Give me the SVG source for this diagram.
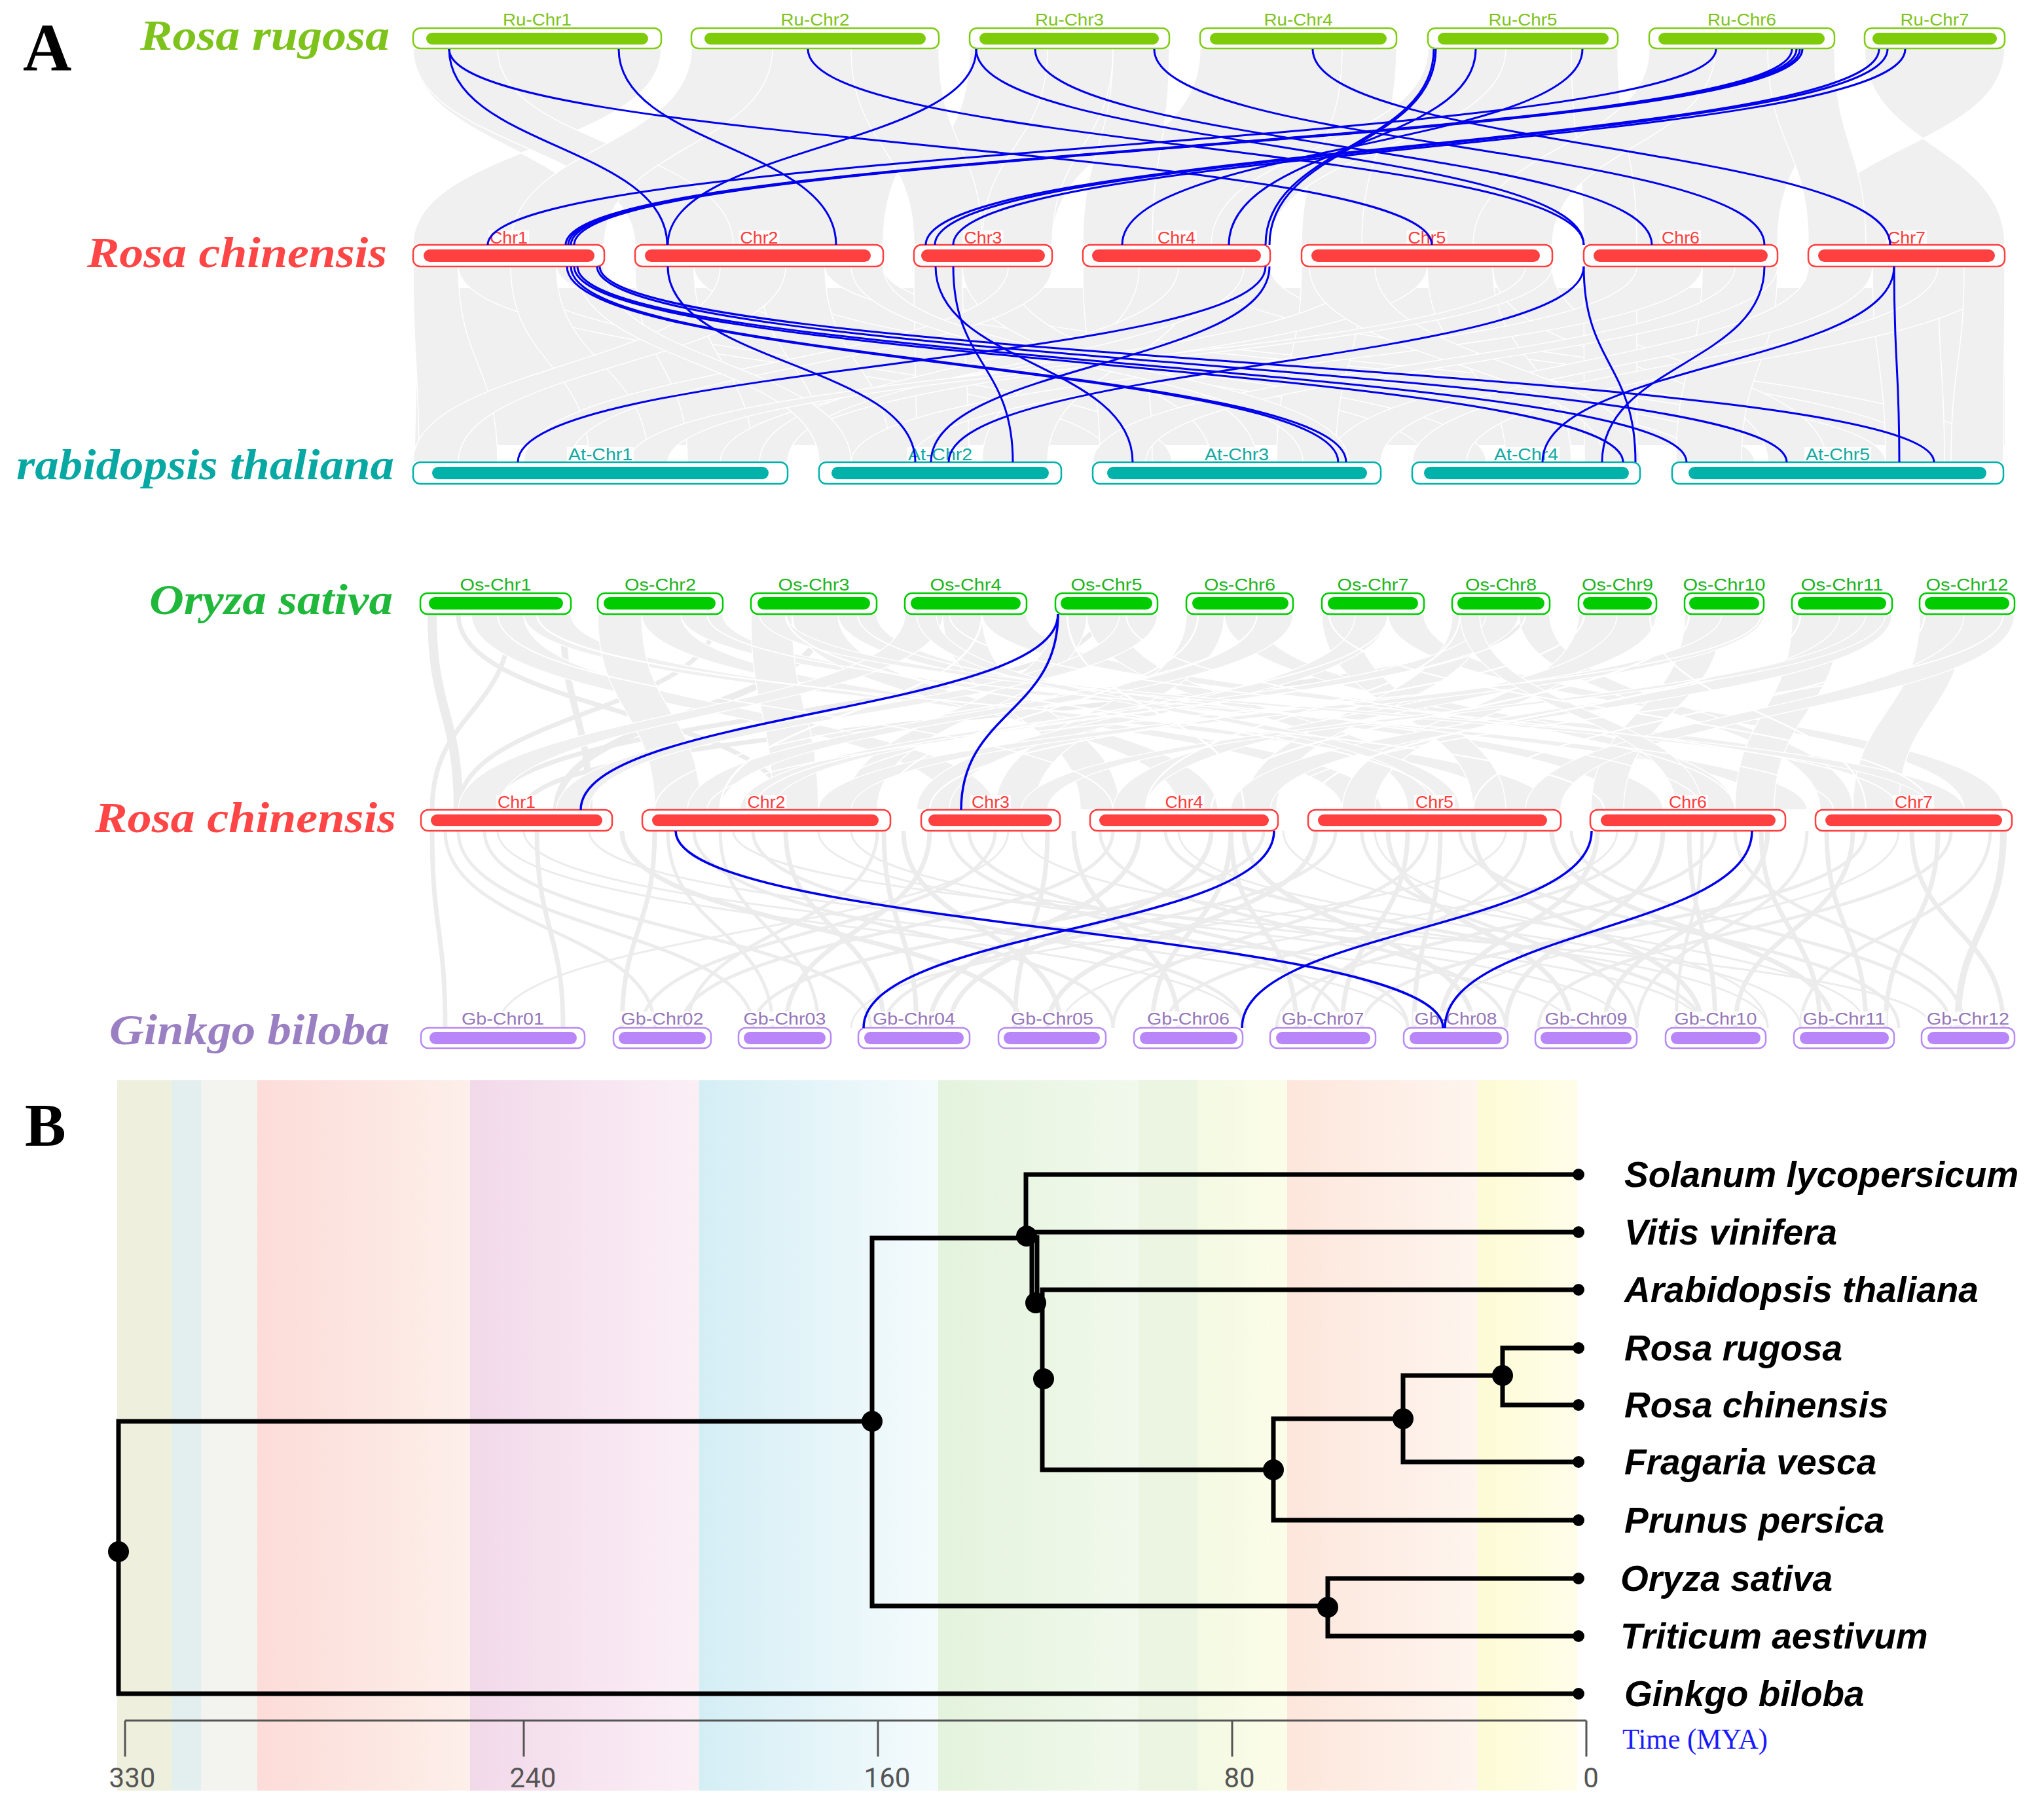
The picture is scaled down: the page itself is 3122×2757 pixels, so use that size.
<svg xmlns="http://www.w3.org/2000/svg" width="3122" height="2757" viewBox="0 0 3122 2757">
<style>
.o{fill:#fff;stroke-width:2.5}
.cl{font-family:"Liberation Sans",Arial,sans-serif;font-size:26px;text-anchor:middle}
.lb{fill:#fff;fill-opacity:.85}
.ru .o{stroke:#80cc14}.ru .i{fill:#7ecb0a}.ru text{fill:#7ec31c}
.rc .o{stroke:#ff4040}.rc .i{fill:#ff4040}.rc text{fill:#ff3b3b}
.at .o{stroke:#00b2aa}.at .i{fill:#00b2aa}.at text{fill:#10a9a1}
.os .o{stroke:#00cc00}.os .i{fill:#00cc00}.os text{fill:#1db51d}
.gb .o{stroke:#b88af5}.gb .i{fill:#b986f9}.gb text{fill:#9577b9}
.sp{font-family:"Liberation Serif","Times New Roman",serif;font-weight:bold;font-style:italic;font-size:66px}
.pl{font-family:"Liberation Serif","Times New Roman",serif;font-weight:bold;fill:#000}
.bl{fill:none;stroke:#0000ee;stroke-width:3}
.gr{fill:#f0f0f0;stroke:#fff;stroke-width:1.5}
.base{fill:#f0f0f0;stroke:none}
.gl{fill:none;stroke:#ececec}
.wl{fill:none;stroke:#fff}
#g3w .a{stroke-width:2}#g3w .b{stroke-width:2.5}#g3w .c{stroke-width:3}#g3w .d{stroke-width:3.5}
#g3g .b{stroke-width:7}#g3g .c{stroke-width:10}#g3g .d{stroke-width:14}
#g4 .a{stroke-width:3}#g4 .b{stroke-width:5}#g4 .c{stroke-width:7}#g4 .d{stroke-width:10}
.tr{fill:none;stroke:#000;stroke-width:7;stroke-linecap:square}
.lf{font-family:"Liberation Sans",Arial,sans-serif;font-weight:bold;font-style:italic;font-size:55px;fill:#000}
.ax{font-family:Roboto,"Liberation Sans",sans-serif;font-size:42px;fill:#555;text-anchor:middle}
</style>
<defs>
<linearGradient id="b1"><stop offset="0" stop-color="#fcdcd8"/><stop offset="1" stop-color="#fdefea"/></linearGradient>
<linearGradient id="b2"><stop offset="0" stop-color="#f2d9ea"/><stop offset="1" stop-color="#fbeff6"/></linearGradient>
<linearGradient id="b3"><stop offset="0" stop-color="#d4eef5"/><stop offset="1" stop-color="#f5fbfc"/></linearGradient>
<linearGradient id="b4"><stop offset="0" stop-color="#e4f3dd"/><stop offset="1" stop-color="#f1f9ec"/></linearGradient>
<linearGradient id="b5"><stop offset="0" stop-color="#f3f9e2"/><stop offset="1" stop-color="#fcfde9"/></linearGradient>
<linearGradient id="b6"><stop offset="0" stop-color="#fde6dc"/><stop offset="1" stop-color="#fef5ee"/></linearGradient>
<linearGradient id="b7"><stop offset="0" stop-color="#fdfbd4"/><stop offset="1" stop-color="#fffde9"/></linearGradient>
</defs>
<rect width="3122" height="2757" fill="#fff"/>

<!-- grey synteny background -->
<g id="g1" class="gr">
<path d="M1056 74C1056 224 970 224 970 374L1349 374C1349 224 1434 224 1434 74Z"/>
<path d="M1481 74C1481 224 1396 224 1396 374L1607 374C1607 224 1786 224 1786 74Z"/>
<path d="M1833 74C1833 224 1654 224 1654 374L1940 374C1940 224 2133 224 2133 74Z"/>
<path d="M2181 74C2181 224 1988 224 1988 374L2371 374C2371 224 2471 224 2471 74Z"/>
<path d="M2519 74C2519 224 2419 224 2419 374L2715 374C2715 224 2802 224 2802 74Z"/>
<path d="M631 74C631 224 923 224 923 374L631 374C631 224 1010 224 1010 74Z"/>
<path d="M2848 74C2848 224 3062 224 3062 374L2762 374C2762 224 3062 224 3062 74Z"/>
<path d="M1300 74C1300 224 1396 224 1396 374L1500 374C1500 224 1434 224 1434 74Z"/>
<path d="M1700 74C1700 224 1654 224 1654 374L1760 374C1760 224 1786 224 1786 74Z"/>
<path d="M2050 74C2050 224 1988 224 1988 374L2080 374C2080 224 2133 224 2133 74Z"/>
<path d="M2400 74C2400 224 2419 224 2419 374L2500 374C2500 224 2471 224 2471 74Z"/>
<path d="M2700 74C2700 224 2762 224 2762 374L2850 374C2850 224 2802 224 2802 74Z"/>
<path d="M631 74C631 224 970 224 970 374L1120 374C1120 224 760 224 760 74Z"/>
<path d="M1056 74C1056 224 780 224 780 374L923 374C923 224 1180 224 1180 74Z"/>
<path d="M2519 74C2519 224 2250 224 2250 374L2371 374C2371 224 2620 224 2620 74Z"/>
<path d="M2181 74C2181 224 1850 224 1850 374L1940 374C1940 224 2300 224 2300 74Z"/>
<path d="M1600 74C1600 224 1500 224 1500 374L1607 374C1607 224 1700 224 1700 74Z"/>
</g>
<g id="g2" class="gr">
<path class="base" d="M640 440H3062V680H634Z"/>
<path d="M631 407C631 556 640 556 640 706L760 706C760 556 700 556 700 407Z"/>
<path d="M700 407C700 556 1700 556 1700 706L1790 706C1790 556 780 556 780 407Z"/>
<path d="M780 407C780 556 900 556 900 706L990 706C990 556 850 556 850 407Z"/>
<path d="M850 407C850 556 2600 556 2600 706L2680 706C2680 556 923 556 923 407Z"/>
<path d="M970 407C970 556 1050 556 1050 706L1150 706C1150 556 1060 556 1060 407Z"/>
<path d="M1060 407C1060 556 2180 556 2180 706L2270 706C2270 556 1160 556 1160 407Z"/>
<path d="M1160 407C1160 556 1260 556 1260 706L1360 706C1360 556 1260 556 1260 407Z"/>
<path d="M1260 407C1260 556 2800 556 2800 706L2880 706C2880 556 1349 556 1349 407Z"/>
<path d="M1396 407C1396 556 1400 556 1400 706L1480 706C1480 556 1470 556 1470 407Z"/>
<path d="M1470 407C1470 556 1850 556 1850 706L1920 706C1920 556 1540 556 1540 407Z"/>
<path d="M1540 407C1540 556 800 556 800 706L870 706C870 556 1607 556 1607 407Z"/>
<path d="M1654 407C1654 556 1680 556 1680 706L1760 706C1760 556 1740 556 1740 407Z"/>
<path d="M1740 407C1740 556 1500 556 1500 706L1600 706C1600 556 1830 556 1830 407Z"/>
<path d="M1830 407C1830 556 2950 556 2950 706L3050 706C3050 556 1940 556 1940 407Z"/>
<path d="M1988 407C1988 556 1950 556 1950 706L2040 706C2040 556 2080 556 2080 407Z"/>
<path d="M2080 407C2080 556 1100 556 1100 706L1190 706C1190 556 2180 556 2180 407Z"/>
<path d="M2180 407C2180 556 2300 556 2300 706L2400 706C2400 556 2280 556 2280 407Z"/>
<path d="M2280 407C2280 556 2700 556 2700 706L2790 706C2790 556 2371 556 2371 407Z"/>
<path d="M2419 407C2419 556 2420 556 2420 706L2500 706C2500 556 2500 556 2500 407Z"/>
<path d="M2500 407C2500 556 1300 556 1300 706L1390 706C1390 556 2600 556 2600 407Z"/>
<path d="M2600 407C2600 556 2560 556 2560 706L2660 706C2660 556 2715 556 2715 407Z"/>
<path d="M2762 407C2762 556 2030 556 2030 706L2109 706C2109 556 2860 556 2860 407Z"/>
<path d="M2860 407C2860 556 2880 556 2880 706L2970 706C2970 556 2960 556 2960 407Z"/>
<path d="M2960 407C2960 556 2157 556 2157 706L2240 706C2240 556 3062 556 3062 407Z"/>
<path d="M1100 407C1100 556 631 556 631 706L700 706C700 556 1200 556 1200 407Z"/>
<path d="M2000 407C2000 556 2450 556 2450 706L2505 706C2505 556 2100 556 2100 407Z"/>
<path d="M1800 407C1800 556 1160 556 1160 706L1203 706C1203 556 1900 556 1900 407Z"/>
<path d="M2650 407C2650 556 1669 556 1669 706L1750 706C1750 556 2715 556 2715 407Z"/>
<path d="M3000 407C3000 556 2980 556 2980 706L3060 706C3060 556 3062 556 3062 407Z"/>
<path d="M880 407C880 556 1251 556 1251 706L1300 706C1300 556 923 556 923 407Z"/>
<path d="M1300 407C1300 556 1990 556 1990 706L2060 706C2060 556 1349 556 1349 407Z"/>
<path d="M2330 407C2330 556 960 556 960 706L1020 706C1020 556 2371 556 2371 407Z"/>
</g>
<g id="g3g" class="gl">
<path class="d" d="M660 938C660 1088 700 1088 700 1237"/>
<path class="c" d="M860 938C860 1088 900 1088 900 1237"/>
<path class="b" d="M700 938C700 1088 1200 1088 1200 1237"/>
<path class="b" d="M1095 938C1095 1088 700 1088 700 1237"/>
<path class="c" d="M1260 938C1260 1088 850 1088 850 1237"/>
<path class="b" d="M1680 938C1680 1088 750 1088 750 1237"/>
<path class="b" d="M2330 938C2330 1088 800 1088 800 1237"/>
<path class="c" d="M930 938C930 1088 1050 1088 1050 1237"/>
<path class="b" d="M780 938C780 1088 660 1088 660 1237"/>
</g>
<g id="g3" class="gr">
<path d="M720 938C720 1088 1450 1088 1450 1237L1520 1237C1520 1088 800 1088 800 938Z"/>
<path d="M800 938C800 1088 2300 1088 2300 1237L2370 1237C2370 1088 872 1088 872 938Z"/>
<path d="M913 938C913 1088 1000 1088 1000 1237L1070 1237C1070 1088 980 1088 980 938Z"/>
<path d="M980 938C980 1088 2050 1088 2050 1237L2110 1237C2110 1088 1040 1088 1040 938Z"/>
<path d="M1040 938C1040 1088 2700 1088 2700 1237L2760 1237C2760 1088 1104 1088 1104 938Z"/>
<path d="M1147 938C1147 1088 1180 1088 1180 1237L1250 1237C1250 1088 1210 1088 1210 938Z"/>
<path d="M1210 938C1210 1088 1800 1088 1800 1237L1860 1237C1860 1088 1280 1088 1280 938Z"/>
<path d="M1280 938C1280 1088 2480 1088 2480 1237L2540 1237C2540 1088 1339 1088 1339 938Z"/>
<path d="M1382 938C1382 1088 700 1088 700 1237L760 1237C760 1088 1440 1088 1440 938Z"/>
<path d="M1440 938C1440 1088 1650 1088 1650 1237L1710 1237C1710 1088 1500 1088 1500 938Z"/>
<path d="M1500 938C1500 1088 2900 1088 2900 1237L2960 1237C2960 1088 1568 1088 1568 938Z"/>
<path d="M1612 938C1612 1088 1290 1088 1290 1237L1340 1237C1340 1088 1660 1088 1660 938Z"/>
<path d="M1660 938C1660 1088 2150 1088 2150 1237L2200 1237C2200 1088 1710 1088 1710 938Z"/>
<path d="M1710 938C1710 1088 850 1088 850 1237L900 1237C900 1088 1768 1088 1768 938Z"/>
<path d="M1812 938C1812 1088 1520 1088 1520 1237L1580 1237C1580 1088 1870 1088 1870 938Z"/>
<path d="M1870 938C1870 1088 2600 1088 2600 1237L2650 1237C2650 1088 1920 1088 1920 938Z"/>
<path d="M1920 938C1920 1088 1050 1088 1050 1237L1100 1237C1100 1088 1975 1088 1975 938Z"/>
<path d="M2019 938C2019 1088 2250 1088 2250 1237L2300 1237C2300 1088 2070 1088 2070 938Z"/>
<path d="M2070 938C2070 1088 1400 1088 1400 1237L1450 1237C1450 1088 2120 1088 2120 938Z"/>
<path d="M2120 938C2120 1088 3000 1088 3000 1237L3060 1237C3060 1088 2175 1088 2175 938Z"/>
<path d="M2218 938C2218 1088 1900 1088 1900 1237L1950 1237C1950 1088 2270 1088 2270 938Z"/>
<path d="M2270 938C2270 1088 1130 1088 1130 1237L1180 1237C1180 1088 2320 1088 2320 938Z"/>
<path d="M2320 938C2320 1088 2780 1088 2780 1237L2830 1237C2830 1088 2367 1088 2367 938Z"/>
<path d="M2411 938C2411 1088 2050 1088 2050 1237L2100 1237C2100 1088 2470 1088 2470 938Z"/>
<path d="M2470 938C2470 1088 1700 1088 1700 1237L1750 1237C1750 1088 2530 1088 2530 938Z"/>
<path d="M2573 938C2573 1088 2430 1088 2430 1237L2480 1237C2480 1088 2630 1088 2630 938Z"/>
<path d="M2630 938C2630 1088 1250 1088 1250 1237L1300 1237C1300 1088 2694 1088 2694 938Z"/>
<path d="M2737 938C2737 1088 2650 1088 2650 1237L2710 1237C2710 1088 2810 1088 2810 938Z"/>
<path d="M2810 938C2810 1088 1880 1088 1880 1237L1940 1237C1940 1088 2890 1088 2890 938Z"/>
<path d="M2932 938C2932 1088 2830 1088 2830 1237L2900 1237C2900 1088 3000 1088 3000 938Z"/>
<path d="M3000 938C3000 1088 2330 1088 2330 1237L2384 1237C2384 1088 3077 1088 3077 938Z"/>
<path d="M1160 938C1160 1088 2950 1088 2950 1237L3000 1237C3000 1088 1200 1088 1200 938Z"/>
<path d="M2850 938C2850 1088 1560 1088 1560 1237L1600 1237C1600 1088 2880 1088 2880 938Z"/>
<path d="M2230 938C2230 1088 2560 1088 2560 1237L2600 1237C2600 1088 2260 1088 2260 938Z"/>
<path d="M1400 938C1400 1088 2190 1088 2190 1237L2230 1237C2230 1088 1430 1088 1430 938Z"/>
</g>
<g id="g3w" class="wl">
<path class="a" d="M760 938C760 1088 1700 1088 1700 1237"/>
<path class="b" d="M820 938C820 1088 2450 1088 2450 1237"/>
<path class="a" d="M1080 938C1080 1088 2800 1088 2800 1237"/>
<path class="b" d="M1200 938C1200 1088 2200 1088 2200 1237"/>
<path class="a" d="M1310 938C1310 1088 2600 1088 2600 1237"/>
<path class="a" d="M1450 938C1450 1088 2900 1088 2900 1237"/>
<path class="c" d="M1500 938C1500 1088 1100 1088 1100 1237"/>
<path class="c" d="M1630 938C1630 1088 1900 1088 1900 1237"/>
<path class="a" d="M1720 938C1720 1088 2650 1088 2650 1237"/>
<path class="b" d="M1830 938C1830 1088 1350 1088 1350 1237"/>
<path class="a" d="M1920 938C1920 1088 1000 1088 1000 1237"/>
<path class="b" d="M2030 938C2030 1088 2950 1088 2950 1237"/>
<path class="a" d="M2120 938C2120 1088 1250 1088 1250 1237"/>
<path class="b" d="M2230 938C2230 1088 1750 1088 1750 1237"/>
<path class="a" d="M2330 938C2330 1088 1150 1088 1150 1237"/>
<path class="b" d="M2420 938C2420 1088 1420 1088 1420 1237"/>
<path class="b" d="M2520 938C2520 1088 2850 1088 2850 1237"/>
<path class="c" d="M2580 938C2580 1088 1850 1088 1850 1237"/>
<path class="a" d="M2690 938C2690 1088 1080 1088 1080 1237"/>
<path class="c" d="M2750 938C2750 1088 2000 1088 2000 1237"/>
<path class="b" d="M2940 938C2940 1088 2250 1088 2250 1237"/>
<path class="a" d="M3060 938C3060 1088 1950 1088 1950 1237"/>
</g>
<g id="g4" class="gl">
<path class="c" d="M660 1269C660 1420 680 1420 680 1570"/>
<path class="b" d="M700 1269C700 1420 1150 1420 1150 1570"/>
<path class="a" d="M760 1269C760 1420 1900 1420 1900 1570"/>
<path class="c" d="M820 1269C820 1420 860 1420 860 1570"/>
<path class="a" d="M900 1269C900 1420 2400 1420 2400 1570"/>
<path class="c" d="M1000 1269C1000 1420 950 1420 950 1570"/>
<path class="b" d="M1060 1269C1060 1420 1700 1420 1700 1570"/>
<path class="a" d="M1120 1269C1120 1420 2950 1420 2950 1570"/>
<path class="c" d="M1200 1269C1200 1420 1350 1420 1350 1570"/>
<path class="a" d="M1300 1269C1300 1420 2600 1420 2600 1570"/>
<path class="b" d="M1340 1269C1340 1420 1050 1420 1050 1570"/>
<path class="c" d="M1420 1269C1420 1420 1200 1420 1200 1570"/>
<path class="b" d="M1480 1269C1480 1420 2150 1420 2150 1570"/>
<path class="a" d="M1540 1269C1540 1420 760 1420 760 1570"/>
<path class="c" d="M1600 1269C1600 1420 1550 1420 1550 1570"/>
<path class="b" d="M1680 1269C1680 1420 2300 1420 2300 1570"/>
<path class="c" d="M1740 1269C1740 1420 1420 1420 1420 1570"/>
<path class="a" d="M1800 1269C1800 1420 2750 1420 2750 1570"/>
<path class="c" d="M1880 1269C1880 1420 1980 1420 1980 1570"/>
<path class="b" d="M1930 1269C1930 1420 1150 1420 1150 1570"/>
<path class="c" d="M2010 1269C2010 1420 1600 1420 1600 1570"/>
<path class="b" d="M2080 1269C2080 1420 2500 1420 2500 1570"/>
<path class="c" d="M2150 1269C2150 1420 2050 1420 2050 1570"/>
<path class="b" d="M2230 1269C2230 1420 2900 1420 2900 1570"/>
<path class="a" d="M2300 1269C2300 1420 1300 1420 1300 1570"/>
<path class="c" d="M2370 1269C2370 1420 2800 1420 2800 1570"/>
<path class="c" d="M2440 1269C2440 1420 2200 1420 2200 1570"/>
<path class="b" d="M2500 1269C2500 1420 1780 1420 1780 1570"/>
<path class="c" d="M2580 1269C2580 1420 2620 1420 2620 1570"/>
<path class="b" d="M2650 1269C2650 1420 3000 1420 3000 1570"/>
<path class="c" d="M2700 1269C2700 1420 2450 1420 2450 1570"/>
<path class="c" d="M2790 1269C2790 1420 2850 1420 2850 1570"/>
<path class="b" d="M2850 1269C2850 1420 2080 1420 2080 1570"/>
<path class="c" d="M2920 1269C2920 1420 3060 1420 3060 1570"/>
<path class="b" d="M2980 1269C2980 1420 2350 1420 2350 1570"/>
<path class="d" d="M3060 1269C3060 1420 2990 1420 2990 1570"/>
<path class="b" d="M1100 1269C1100 1420 1250 1420 1250 1570"/>
<path class="c" d="M1350 1269C1350 1420 1400 1420 1400 1570"/>
<path class="c" d="M1880 1269C1880 1420 1760 1420 1760 1570"/>
<path class="c" d="M2200 1269C2200 1420 2160 1420 2160 1570"/>
<path class="b" d="M2600 1269C2600 1420 2560 1420 2560 1570"/>
<path class="a" d="M2100 1269C2100 1420 2700 1420 2700 1570"/>
<path class="b" d="M680 1269C680 1420 1000 1420 1000 1570"/>
<path class="b" d="M740 1269C740 1420 1330 1420 1330 1570"/>
<path class="a" d="M800 1269C800 1420 2150 1420 2150 1570"/>
<path class="c" d="M950 1269C950 1420 1560 1420 1560 1570"/>
<path class="b" d="M1020 1269C1020 1420 1180 1420 1180 1570"/>
<path class="b" d="M1150 1269C1150 1420 1900 1420 1900 1570"/>
<path class="a" d="M1250 1269C1250 1420 2480 1420 2480 1570"/>
<path class="c" d="M1380 1269C1380 1420 1620 1420 1620 1570"/>
<path class="b" d="M1450 1269C1450 1420 2050 1420 2050 1570"/>
<path class="b" d="M1520 1269C1520 1420 980 1420 980 1570"/>
<path class="a" d="M1560 1269C1560 1420 2700 1420 2700 1570"/>
<path class="c" d="M1640 1269C1640 1420 1800 1420 1800 1570"/>
<path class="b" d="M1700 1269C1700 1420 1040 1420 1040 1570"/>
<path class="b" d="M1780 1269C1780 1420 2600 1420 2600 1570"/>
<path class="c" d="M1850 1269C1850 1420 1450 1420 1450 1570"/>
<path class="c" d="M1900 1269C1900 1420 2250 1420 2250 1570"/>
<path class="a" d="M1960 1269C1960 1420 2850 1420 2850 1570"/>
<path class="b" d="M2040 1269C2040 1420 1350 1420 1350 1570"/>
<path class="c" d="M2120 1269C2120 1420 2400 1420 2400 1570"/>
<path class="b" d="M2180 1269C2180 1420 1700 1420 1700 1570"/>
<path class="c" d="M2250 1269C2250 1420 2600 1420 2600 1570"/>
<path class="b" d="M2330 1269C2330 1420 2000 1420 2000 1570"/>
<path class="b" d="M2400 1269C2400 1420 2980 1420 2980 1570"/>
<path class="a" d="M2470 1269C2470 1420 1620 1420 1620 1570"/>
<path class="c" d="M2540 1269C2540 1420 2300 1420 2300 1570"/>
<path class="b" d="M2620 1269C2620 1420 1950 1420 1950 1570"/>
<path class="c" d="M2690 1269C2690 1420 2780 1420 2780 1570"/>
<path class="b" d="M2760 1269C2760 1420 2500 1420 2500 1570"/>
<path class="c" d="M2830 1269C2830 1420 2650 1420 2650 1570"/>
<path class="a" d="M2900 1269C2900 1420 2200 1420 2200 1570"/>
<path class="c" d="M2960 1269C2960 1420 2880 1420 2880 1570"/>
<path class="b" d="M3040 1269C3040 1420 2750 1420 2750 1570"/>
</g>

<!-- species labels -->
<g id="species">
<text class="sp" x="214" y="76" textLength="381" lengthAdjust="spacingAndGlyphs" fill="#7ec31c">Rosa rugosa</text>
<text class="sp" x="133" y="408" textLength="458" lengthAdjust="spacingAndGlyphs" fill="#ff4545">Rosa chinensis</text>
<text class="sp" x="25" y="732" textLength="577" lengthAdjust="spacingAndGlyphs" fill="#05a8a2">rabidopsis thaliana</text>
<text class="sp" x="228" y="938" textLength="372" lengthAdjust="spacingAndGlyphs" fill="#1fb83b">Oryza sativa</text>
<text class="sp" x="145" y="1271" textLength="460" lengthAdjust="spacingAndGlyphs" fill="#ff4545">Rosa chinensis</text>
<text class="sp" x="167" y="1595" textLength="428" lengthAdjust="spacingAndGlyphs" fill="#9b7fc3">Ginkgo biloba</text>
<text class="pl" x="35" y="108" font-size="103">A</text>
</g>

<!-- chromosomes: Rosa rugosa -->
<g id="ru1" class="ru"><rect class="lb" x="766" y="19" width="109" height="21"/><text class="cl" x="820.5" y="39" textLength="105" lengthAdjust="spacingAndGlyphs">Ru-Chr1</text><rect class="o" x="631" y="43" width="379" height="31" rx="11"/><rect class="i" x="651" y="50" width="339" height="18" rx="9"/></g>
<g id="ru2" class="ru"><rect class="lb" x="1190.5" y="19" width="109" height="21"/><text class="cl" x="1245" y="39" textLength="105" lengthAdjust="spacingAndGlyphs">Ru-Chr2</text><rect class="o" x="1056" y="43" width="378" height="31" rx="11"/><rect class="i" x="1076" y="50" width="338" height="18" rx="9"/></g>
<g id="ru3" class="ru"><rect class="lb" x="1579" y="19" width="109" height="21"/><text class="cl" x="1633.5" y="39" textLength="105" lengthAdjust="spacingAndGlyphs">Ru-Chr3</text><rect class="o" x="1481" y="43" width="305" height="31" rx="11"/><rect class="i" x="1496" y="50" width="274" height="18" rx="9"/></g>
<g id="ru4" class="ru"><rect class="lb" x="1928.5" y="19" width="109" height="21"/><text class="cl" x="1983" y="39" textLength="105" lengthAdjust="spacingAndGlyphs">Ru-Chr4</text><rect class="o" x="1833" y="43" width="300" height="31" rx="11"/><rect class="i" x="1848" y="50" width="270" height="18" rx="9"/></g>
<g id="ru5" class="ru"><rect class="lb" x="2271.5" y="19" width="109" height="21"/><text class="cl" x="2326" y="39" textLength="105" lengthAdjust="spacingAndGlyphs">Ru-Chr5</text><rect class="o" x="2181" y="43" width="290" height="31" rx="11"/><rect class="i" x="2196" y="50" width="261" height="18" rx="9"/></g>
<g id="ru6" class="ru"><rect class="lb" x="2606" y="19" width="109" height="21"/><text class="cl" x="2660.5" y="39" textLength="105" lengthAdjust="spacingAndGlyphs">Ru-Chr6</text><rect class="o" x="2519" y="43" width="283" height="31" rx="11"/><rect class="i" x="2533" y="50" width="254" height="18" rx="9"/></g>
<g id="ru7" class="ru"><rect class="lb" x="2900.5" y="19" width="109" height="21"/><text class="cl" x="2955" y="39" textLength="105" lengthAdjust="spacingAndGlyphs">Ru-Chr7</text><rect class="o" x="2848" y="43" width="214" height="31" rx="11"/><rect class="i" x="2860" y="50" width="190" height="18" rx="9"/></g>

<!-- Rosa chinensis (top) -->
<g id="rc1" class="rc"><rect class="lb" x="746" y="352" width="62" height="21"/><text class="cl" x="777" y="372" textLength="58" lengthAdjust="spacingAndGlyphs">Chr1</text><rect class="o" x="631" y="374" width="292" height="33" rx="11"/><rect class="i" x="647" y="381" width="261" height="19" rx="9.5"/></g>
<g id="rc2" class="rc"><rect class="lb" x="1128.5" y="352" width="62" height="21"/><text class="cl" x="1159.5" y="372" textLength="58" lengthAdjust="spacingAndGlyphs">Chr2</text><rect class="o" x="970" y="374" width="379" height="33" rx="11"/><rect class="i" x="985" y="381" width="345" height="19" rx="9.5"/></g>
<g id="rc3" class="rc"><rect class="lb" x="1470.5" y="352" width="62" height="21"/><text class="cl" x="1501.5" y="372" textLength="58" lengthAdjust="spacingAndGlyphs">Chr3</text><rect class="o" x="1396" y="374" width="211" height="33" rx="11"/><rect class="i" x="1407" y="381" width="189" height="19" rx="9.5"/></g>
<g id="rc4" class="rc"><rect class="lb" x="1766" y="352" width="62" height="21"/><text class="cl" x="1797" y="372" textLength="58" lengthAdjust="spacingAndGlyphs">Chr4</text><rect class="o" x="1654" y="374" width="286" height="33" rx="11"/><rect class="i" x="1668" y="381" width="258" height="19" rx="9.5"/></g>
<g id="rc5" class="rc"><rect class="lb" x="2148.5" y="352" width="62" height="21"/><text class="cl" x="2179.5" y="372" textLength="58" lengthAdjust="spacingAndGlyphs">Chr5</text><rect class="o" x="1988" y="374" width="383" height="33" rx="11"/><rect class="i" x="2003" y="381" width="349" height="19" rx="9.5"/></g>
<g id="rc6" class="rc"><rect class="lb" x="2536" y="352" width="62" height="21"/><text class="cl" x="2567" y="372" textLength="58" lengthAdjust="spacingAndGlyphs">Chr6</text><rect class="o" x="2419" y="374" width="296" height="33" rx="11"/><rect class="i" x="2434" y="381" width="266" height="19" rx="9.5"/></g>
<g id="rc7" class="rc"><rect class="lb" x="2881" y="352" width="62" height="21"/><text class="cl" x="2912" y="372" textLength="58" lengthAdjust="spacingAndGlyphs">Chr7</text><rect class="o" x="2762" y="374" width="300" height="33" rx="11"/><rect class="i" x="2777" y="381" width="270" height="19" rx="9.5"/></g>

<!-- Arabidopsis -->
<g id="at1" class="at"><rect class="lb" x="866" y="683" width="102" height="21"/><text class="cl" x="917" y="703" textLength="98" lengthAdjust="spacingAndGlyphs">At-Chr1</text><rect class="o" x="631" y="706" width="572" height="33" rx="11"/><rect class="i" x="660" y="713" width="514" height="19" rx="9.5"/></g>
<g id="at2" class="at"><rect class="lb" x="1385" y="683" width="102" height="21"/><text class="cl" x="1436" y="703" textLength="98" lengthAdjust="spacingAndGlyphs">At-Chr2</text><rect class="o" x="1251" y="706" width="370" height="33" rx="11"/><rect class="i" x="1270" y="713" width="332" height="19" rx="9.5"/></g>
<g id="at3" class="at"><rect class="lb" x="1838" y="683" width="102" height="21"/><text class="cl" x="1889" y="703" textLength="98" lengthAdjust="spacingAndGlyphs">At-Chr3</text><rect class="o" x="1669" y="706" width="440" height="33" rx="11"/><rect class="i" x="1691" y="713" width="397" height="19" rx="9.5"/></g>
<g id="at4" class="at"><rect class="lb" x="2280" y="683" width="102" height="21"/><text class="cl" x="2331" y="703" textLength="98" lengthAdjust="spacingAndGlyphs">At-Chr4</text><rect class="o" x="2157" y="706" width="348" height="33" rx="11"/><rect class="i" x="2175" y="713" width="313" height="19" rx="9.5"/></g>
<g id="at5" class="at"><rect class="lb" x="2756" y="683" width="102" height="21"/><text class="cl" x="2807" y="703" textLength="98" lengthAdjust="spacingAndGlyphs">At-Chr5</text><rect class="o" x="2554" y="706" width="506" height="33" rx="11"/><rect class="i" x="2579" y="713" width="455" height="19" rx="9.5"/></g>

<!-- Oryza -->
<g id="os1" class="os"><rect class="lb" x="701" y="882" width="112" height="21"/><text class="cl" x="757" y="902" textLength="109" lengthAdjust="spacingAndGlyphs">Os-Chr1</text><rect class="o" x="642" y="906" width="230" height="32" rx="11"/><rect class="i" x="655" y="912" width="205" height="19" rx="9.5"/></g>
<g id="os2" class="os"><rect class="lb" x="952.5" y="882" width="112" height="21"/><text class="cl" x="1008.5" y="902" textLength="109" lengthAdjust="spacingAndGlyphs">Os-Chr2</text><rect class="o" x="913" y="906" width="191" height="32" rx="11"/><rect class="i" x="922" y="912" width="171" height="19" rx="9.5"/></g>
<g id="os3" class="os"><rect class="lb" x="1187" y="882" width="112" height="21"/><text class="cl" x="1243" y="902" textLength="109" lengthAdjust="spacingAndGlyphs">Os-Chr3</text><rect class="o" x="1147" y="906" width="192" height="32" rx="11"/><rect class="i" x="1157" y="912" width="172" height="19" rx="9.5"/></g>
<g id="os4" class="os"><rect class="lb" x="1419" y="882" width="112" height="21"/><text class="cl" x="1475" y="902" textLength="109" lengthAdjust="spacingAndGlyphs">Os-Chr4</text><rect class="o" x="1382" y="906" width="186" height="32" rx="11"/><rect class="i" x="1391" y="912" width="168" height="19" rx="9.5"/></g>
<g id="os5" class="os"><rect class="lb" x="1634" y="882" width="112" height="21"/><text class="cl" x="1690" y="902" textLength="109" lengthAdjust="spacingAndGlyphs">Os-Chr5</text><rect class="o" x="1612" y="906" width="156" height="32" rx="11"/><rect class="i" x="1620" y="912" width="140" height="19" rx="9.5"/></g>
<g id="os6" class="os"><rect class="lb" x="1837.5" y="882" width="112" height="21"/><text class="cl" x="1893.5" y="902" textLength="109" lengthAdjust="spacingAndGlyphs">Os-Chr6</text><rect class="o" x="1812" y="906" width="163" height="32" rx="11"/><rect class="i" x="1821" y="912" width="147" height="19" rx="9.5"/></g>
<g id="os7" class="os"><rect class="lb" x="2041" y="882" width="112" height="21"/><text class="cl" x="2097" y="902" textLength="109" lengthAdjust="spacingAndGlyphs">Os-Chr7</text><rect class="o" x="2019" y="906" width="156" height="32" rx="11"/><rect class="i" x="2028" y="912" width="138" height="19" rx="9.5"/></g>
<g id="os8" class="os"><rect class="lb" x="2236.5" y="882" width="112" height="21"/><text class="cl" x="2292.5" y="902" textLength="109" lengthAdjust="spacingAndGlyphs">Os-Chr8</text><rect class="o" x="2218" y="906" width="149" height="32" rx="11"/><rect class="i" x="2226" y="912" width="133" height="19" rx="9.5"/></g>
<g id="os9" class="os"><rect class="lb" x="2414.5" y="882" width="112" height="21"/><text class="cl" x="2470.5" y="902" textLength="109" lengthAdjust="spacingAndGlyphs">Os-Chr9</text><rect class="o" x="2411" y="906" width="119" height="32" rx="11"/><rect class="i" x="2418" y="912" width="105" height="19" rx="9.5"/></g>
<g id="os10" class="os"><rect class="lb" x="2568.5" y="882" width="130" height="21"/><text class="cl" x="2633.5" y="902" textLength="126" lengthAdjust="spacingAndGlyphs">Os-Chr10</text><rect class="o" x="2573" y="906" width="121" height="32" rx="11"/><rect class="i" x="2580" y="912" width="107" height="19" rx="9.5"/></g>
<g id="os11" class="os"><rect class="lb" x="2748.5" y="882" width="130" height="21"/><text class="cl" x="2813.5" y="902" textLength="126" lengthAdjust="spacingAndGlyphs">Os-Chr11</text><rect class="o" x="2737" y="906" width="153" height="32" rx="11"/><rect class="i" x="2746" y="912" width="135" height="19" rx="9.5"/></g>
<g id="os12" class="os"><rect class="lb" x="2939.5" y="882" width="130" height="21"/><text class="cl" x="3004.5" y="902" textLength="126" lengthAdjust="spacingAndGlyphs">Os-Chr12</text><rect class="o" x="2932" y="906" width="145" height="32" rx="11"/><rect class="i" x="2940" y="912" width="129" height="19" rx="9.5"/></g>

<!-- Rosa chinensis (bottom) -->
<g id="rb1" class="rc"><rect class="lb" x="758" y="1214" width="62" height="21"/><text class="cl" x="789" y="1234" textLength="58" lengthAdjust="spacingAndGlyphs">Chr1</text><rect class="o" x="643" y="1237" width="292" height="32" rx="11"/><rect class="i" x="658" y="1244" width="262" height="18" rx="9"/></g>
<g id="rb2" class="rc"><rect class="lb" x="1139.5" y="1214" width="62" height="21"/><text class="cl" x="1170.5" y="1234" textLength="58" lengthAdjust="spacingAndGlyphs">Chr2</text><rect class="o" x="981" y="1237" width="379" height="32" rx="11"/><rect class="i" x="996" y="1244" width="346" height="18" rx="9"/></g>
<g id="rb3" class="rc"><rect class="lb" x="1482" y="1214" width="62" height="21"/><text class="cl" x="1513" y="1234" textLength="58" lengthAdjust="spacingAndGlyphs">Chr3</text><rect class="o" x="1407" y="1237" width="212" height="32" rx="11"/><rect class="i" x="1418" y="1244" width="189" height="18" rx="9"/></g>
<g id="rb4" class="rc"><rect class="lb" x="1777.5" y="1214" width="62" height="21"/><text class="cl" x="1808.5" y="1234" textLength="58" lengthAdjust="spacingAndGlyphs">Chr4</text><rect class="o" x="1665" y="1237" width="287" height="32" rx="11"/><rect class="i" x="1679" y="1244" width="259" height="18" rx="9"/></g>
<g id="rb5" class="rc"><rect class="lb" x="2160" y="1214" width="62" height="21"/><text class="cl" x="2191" y="1234" textLength="58" lengthAdjust="spacingAndGlyphs">Chr5</text><rect class="o" x="1998" y="1237" width="386" height="32" rx="11"/><rect class="i" x="2013" y="1244" width="350" height="18" rx="9"/></g>
<g id="rb6" class="rc"><rect class="lb" x="2547" y="1214" width="62" height="21"/><text class="cl" x="2578" y="1234" textLength="58" lengthAdjust="spacingAndGlyphs">Chr6</text><rect class="o" x="2429" y="1237" width="298" height="32" rx="11"/><rect class="i" x="2445" y="1244" width="267" height="18" rx="9"/></g>
<g id="rb7" class="rc"><rect class="lb" x="2892" y="1214" width="62" height="21"/><text class="cl" x="2923" y="1234" textLength="58" lengthAdjust="spacingAndGlyphs">Chr7</text><rect class="o" x="2773" y="1237" width="300" height="32" rx="11"/><rect class="i" x="2788" y="1244" width="270" height="18" rx="9"/></g>

<!-- Ginkgo -->
<g id="gb1" class="gb"><rect class="lb" x="703" y="1545" width="130" height="21"/><text class="cl" x="768" y="1565" textLength="126" lengthAdjust="spacingAndGlyphs">Gb-Chr01</text><rect class="o" x="643" y="1570" width="250" height="31" rx="11"/><rect class="i" x="656" y="1576" width="225" height="19" rx="9.5"/></g>
<g id="gb2" class="gb"><rect class="lb" x="946.5" y="1545" width="130" height="21"/><text class="cl" x="1011.5" y="1565" textLength="126" lengthAdjust="spacingAndGlyphs">Gb-Chr02</text><rect class="o" x="937" y="1570" width="149" height="31" rx="11"/><rect class="i" x="945" y="1576" width="133" height="19" rx="9.5"/></g>
<g id="gb3" class="gb"><rect class="lb" x="1133.5" y="1545" width="130" height="21"/><text class="cl" x="1198.5" y="1565" textLength="126" lengthAdjust="spacingAndGlyphs">Gb-Chr03</text><rect class="o" x="1128" y="1570" width="141" height="31" rx="11"/><rect class="i" x="1136" y="1576" width="125" height="19" rx="9.5"/></g>
<g id="gb4" class="gb"><rect class="lb" x="1331" y="1545" width="130" height="21"/><text class="cl" x="1396" y="1565" textLength="126" lengthAdjust="spacingAndGlyphs">Gb-Chr04</text><rect class="o" x="1311" y="1570" width="170" height="31" rx="11"/><rect class="i" x="1320" y="1576" width="152" height="19" rx="9.5"/></g>
<g id="gb5" class="gb"><rect class="lb" x="1542" y="1545" width="130" height="21"/><text class="cl" x="1607" y="1565" textLength="126" lengthAdjust="spacingAndGlyphs">Gb-Chr05</text><rect class="o" x="1525" y="1570" width="164" height="31" rx="11"/><rect class="i" x="1533" y="1576" width="147" height="19" rx="9.5"/></g>
<g id="gb6" class="gb"><rect class="lb" x="1750" y="1545" width="130" height="21"/><text class="cl" x="1815" y="1565" textLength="126" lengthAdjust="spacingAndGlyphs">Gb-Chr06</text><rect class="o" x="1732" y="1570" width="166" height="31" rx="11"/><rect class="i" x="1741" y="1576" width="149" height="19" rx="9.5"/></g>
<g id="gb7" class="gb"><rect class="lb" x="1955.5" y="1545" width="130" height="21"/><text class="cl" x="2020.5" y="1565" textLength="126" lengthAdjust="spacingAndGlyphs">Gb-Chr07</text><rect class="o" x="1940" y="1570" width="161" height="31" rx="11"/><rect class="i" x="1949" y="1576" width="144" height="19" rx="9.5"/></g>
<g id="gb8" class="gb"><rect class="lb" x="2158.5" y="1545" width="130" height="21"/><text class="cl" x="2223.5" y="1565" textLength="126" lengthAdjust="spacingAndGlyphs">Gb-Chr08</text><rect class="o" x="2144" y="1570" width="159" height="31" rx="11"/><rect class="i" x="2153" y="1576" width="141" height="19" rx="9.5"/></g>
<g id="gb9" class="gb"><rect class="lb" x="2357.5" y="1545" width="130" height="21"/><text class="cl" x="2422.5" y="1565" textLength="126" lengthAdjust="spacingAndGlyphs">Gb-Chr09</text><rect class="o" x="2345" y="1570" width="155" height="31" rx="11"/><rect class="i" x="2353" y="1576" width="139" height="19" rx="9.5"/></g>
<g id="gb10" class="gb"><rect class="lb" x="2555.5" y="1545" width="130" height="21"/><text class="cl" x="2620.5" y="1565" textLength="126" lengthAdjust="spacingAndGlyphs">Gb-Chr10</text><rect class="o" x="2544" y="1570" width="153" height="31" rx="11"/><rect class="i" x="2552" y="1576" width="137" height="19" rx="9.5"/></g>
<g id="gb11" class="gb"><rect class="lb" x="2751.5" y="1545" width="130" height="21"/><text class="cl" x="2816.5" y="1565" textLength="126" lengthAdjust="spacingAndGlyphs">Gb-Chr11</text><rect class="o" x="2740" y="1570" width="153" height="31" rx="11"/><rect class="i" x="2749" y="1576" width="136" height="19" rx="9.5"/></g>
<g id="gb12" class="gb"><rect class="lb" x="2941" y="1545" width="130" height="21"/><text class="cl" x="3006" y="1565" textLength="126" lengthAdjust="spacingAndGlyphs">Gb-Chr12</text><rect class="o" x="2935" y="1570" width="142" height="31" rx="11"/><rect class="i" x="2944" y="1576" width="125" height="19" rx="9.5"/></g>

<!-- blue collinear connectors -->
<g id="connectors" class="bl">
<path d="M686 75C686 224 1019 224 1019 374"/>
<path d="M686 75C686 224 2187 224 2187 374"/>
<path d="M945 75C945 224 1277 224 1277 374"/>
<path d="M1234 75C1234 224 2419 224 2419 374"/>
<path d="M1491 75C1491 224 1020 224 1020 374"/>
<path d="M1491 75C1491 224 2419 224 2419 374"/>
<path d="M1581 75C1581 224 2523 224 2523 374"/>
<path d="M1763 75C1763 224 2695 224 2695 374"/>
<path d="M2005 75C2005 224 2887 224 2887 374"/>
<path d="M2190 75C2190 224 1933 224 1933 374"/>
<path d="M2193 75C2193 224 1939 224 1939 374"/>
<path d="M2254 75C2254 224 1877 224 1877 374"/>
<path d="M2417 75C2417 224 1714 224 1714 374"/>
<path d="M2621 75C2621 224 745 224 745 374"/>
<path d="M2737 75C2737 224 864 224 864 374"/>
<path d="M2744 75C2744 224 868 224 868 374"/>
<path d="M2749 75C2749 224 872 224 872 374"/>
<path d="M2753 75C2753 224 877 224 877 374"/>
<path d="M2870 75C2870 224 1414 224 1414 374"/>
<path d="M2883 75C2883 224 1428 224 1428 374"/>
<path d="M2910 75C2910 224 1456 224 1456 374"/>
<path d="M1933 407C1933 556 791 556 791 706"/>
<path d="M1020 407C1020 556 1398 556 1398 706"/>
<path d="M1939 407C1939 556 1422 556 1422 706"/>
<path d="M2419 407C2419 556 1449 556 1449 706"/>
<path d="M1456 407C1456 556 1547 556 1547 706"/>
<path d="M1429 407C1429 556 1730 556 1730 706"/>
<path d="M866 407C866 556 2044 556 2044 706"/>
<path d="M872 407C872 556 2056 556 2056 706"/>
<path d="M2893 407C2893 556 2356 556 2356 706"/>
<path d="M2695 407C2695 556 2447 556 2447 706"/>
<path d="M877 407C877 556 2479 556 2479 706"/>
<path d="M2419 407C2419 556 2498 556 2498 706"/>
<path d="M882 407C882 556 2576 556 2576 706"/>
<path d="M912 407C912 556 2729 556 2729 706"/>
<path d="M2893 407C2893 556 2901 556 2901 706"/>
<path d="M916 407C916 556 2954 556 2954 706"/>
<path d="M1616 938C1616 1088 887 1088 887 1237" stroke-width="3.5"/>
<path d="M1616 938C1616 1088 1468 1088 1468 1237" stroke-width="3.5"/>
<path d="M1032 1269C1032 1420 2204 1420 2204 1570" stroke-width="3.5"/>
<path d="M1946 1269C1946 1420 1319 1420 1319 1570" stroke-width="3.5"/>
<path d="M2431 1269C2431 1420 1897 1420 1897 1570" stroke-width="3.5"/>
<path d="M2676 1269C2676 1420 2207 1420 2207 1570" stroke-width="3.5"/>
</g>

<!-- Panel B -->
<g id="bands">
<rect x="179" y="1650" width="83" height="1085" fill="#eef0dd"/>
<rect x="262" y="1650" width="45" height="1085" fill="#e2efee"/>
<rect x="307" y="1650" width="86" height="1085" fill="#f3f3f0"/>
<rect x="393" y="1650" width="325" height="1085" fill="url(#b1)"/>
<rect x="718" y="1650" width="350" height="1085" fill="url(#b2)"/>
<rect x="1068" y="1650" width="365" height="1085" fill="url(#b3)"/>
<rect x="1433" y="1650" width="306" height="1085" fill="url(#b4)"/>
<rect x="1739" y="1650" width="90" height="1085" fill="#ebf5e1"/>
<rect x="1829" y="1650" width="137" height="1085" fill="url(#b5)"/>
<rect x="1966" y="1650" width="291" height="1085" fill="url(#b6)"/>
<rect x="2257" y="1650" width="152" height="1085" fill="url(#b7)"/>
</g>
<text class="pl" x="38" y="1750" font-size="94">B</text>
<g id="tree-branches">
<path class="tr" d="M181 2171V2587M181 2171H1332M181 2587H2411M1332 1891V2453M1332 2453H2028M2028 2411V2499M2028 2411H2411M2028 2499H2411M1332 1891H1567M1567 1794V1891M1567 1794H2411M1567 1882H2411M1576 1890V1992M1584 1890V1992M1592 1970V2245M1592 1970H2411M1592 2245H1945M1945 2167V2322M1945 2322H2411M1945 2167H2143M2143 2101V2233M2143 2233H2411M2143 2101H2295M2295 2059V2146M2295 2059H2411M2295 2146H2411"/>
</g>
<g id="tree-nodes" fill="#000">
<circle cx="181" cy="2370" r="16"/>
<circle cx="1332" cy="2171" r="16"/>
<circle cx="1568" cy="1888" r="16"/>
<circle cx="1582" cy="1990" r="16"/>
<circle cx="1594" cy="2106" r="16"/>
<circle cx="1945" cy="2245" r="16"/>
<circle cx="2143" cy="2167" r="16"/>
<circle cx="2295" cy="2101" r="16"/>
<circle cx="2028" cy="2455" r="16"/>
<circle cx="2411" cy="1794" r="9"/>
<circle cx="2411" cy="1882" r="9"/>
<circle cx="2411" cy="1970" r="9"/>
<circle cx="2411" cy="2059" r="9"/>
<circle cx="2411" cy="2146" r="9"/>
<circle cx="2411" cy="2233" r="9"/>
<circle cx="2411" cy="2322" r="9"/>
<circle cx="2411" cy="2411" r="9"/>
<circle cx="2411" cy="2499" r="9"/>
<circle cx="2411" cy="2587" r="9"/>
</g>
<g id="leaf-labels" class="lf">
<text x="2481" y="1813">Solanum lycopersicum</text>
<text x="2481" y="1901">Vitis vinifera</text>
<text x="2481" y="1989">Arabidopsis thaliana</text>
<text x="2481" y="2078">Rosa rugosa</text>
<text x="2481" y="2165">Rosa chinensis</text>
<text x="2481" y="2252">Fragaria vesca</text>
<text x="2481" y="2341">Prunus persica</text>
<text x="2475" y="2430">Oryza sativa</text>
<text x="2475" y="2518">Triticum aestivum</text>
<text x="2481" y="2606">Ginkgo biloba</text>
</g>
<g id="axis">
<path d="M191 2628H2423M191 2628V2683M800 2628V2683M1341 2628V2683M1882 2628V2683M2423 2628V2683" fill="none" stroke="#555" stroke-width="3"/>
<text class="ax" x="202" y="2730">330</text>
<text class="ax" x="814" y="2730">240</text>
<text class="ax" x="1355" y="2730">160</text>
<text class="ax" x="1893" y="2730">80</text>
<text class="ax" x="2430" y="2730">0</text>
<text x="2478" y="2671" font-family="'Liberation Serif','Times New Roman',serif" font-size="44" fill="#1a1aff" textLength="222" lengthAdjust="spacingAndGlyphs">Time (MYA)</text>
</g>
</svg>
